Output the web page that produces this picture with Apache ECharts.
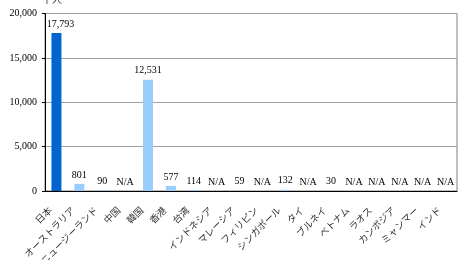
<!DOCTYPE html>
<html><head><meta charset="utf-8">
<script src="https://cdn.jsdelivr.net/npm/echarts@6/dist/echarts.min.js"></script>
<style>html,body{margin:0;padding:0;background:#fff}#c{width:465px;height:260px}</style>
</head><body><div id="c"></div>
<script>
const categories = ['日本','オーストラリア','ニュージーランド','中国','韓国','香港','台湾','インドネシア','マレーシア','フィリピン','シンガポール','タイ','ブルネイ','ベトナム','ラオス','カンボジア','ミャンマー','インド'];
const values = [17793, 801, 90, null, 12531, 577, 114, null, 59, null, 132, null, 30, null, null, null, null, null];
const yTicks = [0, 5000, 10000, 15000, 20000];
const unitLabel = '千人';

const serif = '"Liberation Serif","DejaVu Serif",serif';
const data = values.map((v, i) => ({
  value: v === null ? 0 : v,
  itemStyle: { color: i === 0 ? '#0066cc' : '#99ccff' },
  label: { formatter: v === null ? 'N/A' : v.toLocaleString('en-US'), offset: i === 0 ? [4, 0] : [0, 0] }
}));

const chart = echarts.init(document.getElementById('c'));
chart.setOption({
  animation: false,
  graphic: [{ type: 'text', left: 42, top: -6, style: { text: unitLabel, font: '10px "Noto Sans CJK JP"', fill: '#333' } }],
  grid: { left: 45, right: 8, top: 13.5, bottom: 69, show: true, borderColor: '#808080', borderWidth: 1, outerBoundsMode: 'none', containLabel: false },
  xAxis: {
    type: 'category', data: categories,
    axisLine: { lineStyle: { color: '#000', width: 1 } },
    axisTick: { inside: true, length: 3, lineStyle: { color: '#000' } },
    axisLabel: { rotate: 45, interval: 0, fontSize: 9.5, color: '#333', fontFamily: '"Noto Sans CJK JP"', margin: 11, padding: [0, 9, 0, 0] }
  },
  yAxis: {
    type: 'value', min: yTicks[0], max: yTicks[yTicks.length - 1], interval: 5000,
    axisLine: { show: true, lineStyle: { color: '#000', width: 1 } },
    axisTick: { show: true, length: 3, lineStyle: { color: '#000' } },
    splitLine: { lineStyle: { color: '#a0a0a0', width: 1 } },
    axisLabel: { fontSize: 10, color: '#000', fontFamily: serif, margin: 8,
      formatter: v => v.toLocaleString('en-US') }
  },
  series: [{
    type: 'bar', data: data, barWidth: 10,
    label: { show: true, position: 'top', distance: 4, fontSize: 10, color: '#000', fontFamily: serif }
  }]
});
</script></body></html>
